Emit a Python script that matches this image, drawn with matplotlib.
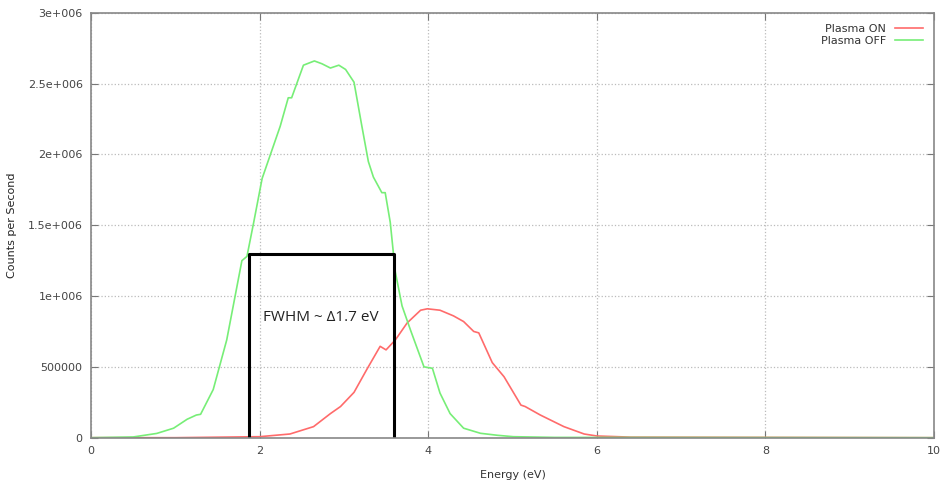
import numpy as np
import matplotlib.pyplot as plt

# Plasma OFF spectrum (energy in eV, counts per second)
off_energy = [0.0, 0.5, 0.78, 0.98, 1.14, 1.25, 1.30, 1.45, 1.61, 1.79, 1.85, 1.93, 2.03,
              2.245, 2.34, 2.38, 2.52, 2.65, 2.74, 2.84, 2.94, 3.02, 3.12, 3.21, 3.29,
              3.35, 3.45, 3.49, 3.55, 3.61, 3.69, 3.79, 3.87, 3.95, 4.05, 4.14, 4.26,
              4.42, 4.62, 4.82, 5.01, 5.5, 10.0]
off_counts = [0.0, 0.005, 0.03, 0.067, 0.13, 0.16, 0.165, 0.34, 0.69, 1.25, 1.28, 1.52, 1.83,
              2.20, 2.40, 2.40, 2.63, 2.66, 2.64, 2.61, 2.63, 2.60, 2.51, 2.21, 1.95,
              1.84, 1.73, 1.73, 1.52, 1.17, 0.93, 0.76, 0.63, 0.50, 0.49, 0.315, 0.17,
              0.067, 0.031, 0.017, 0.007, 0.002, 0.0]

# Plasma ON spectrum
on_energy = [0.0, 1.0, 2.0, 2.36, 2.64, 2.84, 2.96, 3.12, 3.27, 3.43, 3.50, 3.61, 3.75,
             3.91, 3.99, 4.14, 4.30, 4.42, 4.54, 4.60, 4.76, 4.90, 5.10, 5.15, 5.33,
             5.61, 5.85, 6.0, 6.4, 10.0]
on_counts = [0.0, 0.0, 0.007, 0.026, 0.078, 0.17, 0.22, 0.32, 0.48, 0.645, 0.62, 0.69, 0.81,
             0.90, 0.91, 0.90, 0.86, 0.82, 0.75, 0.74, 0.53, 0.43, 0.23, 0.22, 0.16,
             0.078, 0.026, 0.012, 0.004, 0.0]

# FWHM box
fwhm_left = 1.87
fwhm_right = 3.59
fwhm_height = 1.30e6

off_counts = np.array(off_counts) * 1e6
on_counts = np.array(on_counts) * 1e6

fig = plt.figure(figsize=(9.42, 4.92), dpi=100)
ax = fig.add_axes([0.0966, 0.1104, 0.8949, 0.8636])

ax.plot(on_energy, on_counts, color='#ff6b6b', lw=1.2, label='Plasma ON')
ax.plot(off_energy, off_counts, color='#77ee77', lw=1.2, label='Plasma OFF')

ax.plot([fwhm_left, fwhm_left, fwhm_right, fwhm_right],
        [0, fwhm_height, fwhm_height, 0], color='black', lw=2.2)
ax.text((fwhm_left + fwhm_right) / 2, 0.85e6, 'FWHM ~ \u03941.7 eV',
        ha='center', va='center', fontsize=11, color='#222222', family='Open Sans')

ax.set_xlim(0, 10)
ax.set_ylim(0, 3e6)
ax.set_xticks([0, 2, 4, 6, 8, 10])
ax.set_yticks([0, 5e5, 1e6, 1.5e6, 2e6, 2.5e6, 3e6])
ax.set_yticklabels(['0', '500000', '1e+006', '1.5e+006', '2e+006', '2.5e+006', '3e+006'])

ax.grid(True, linestyle=':', color='#bbbbbb', lw=0.9)
ax.tick_params(direction='in', top=True, right=True, length=5, color='#777777',
               labelsize=8, labelcolor='#444444', pad=6)
for s in ax.spines.values():
    s.set_color('#888888')
    s.set_linewidth(1.2)

ax.set_xlabel('Energy (eV)', fontsize=8, color='#333333', labelpad=10)
ax.set_ylabel('Counts per Second', fontsize=8, color='#222222')
ax.yaxis.set_label_coords(-0.088, 0.5)

ax.legend(loc='upper right', frameon=False, markerfirst=False, fontsize=8,
          handlelength=2.5, labelspacing=0.2, borderaxespad=0.6, labelcolor='#333333')

fig.savefig('out.png', dpi=100)
